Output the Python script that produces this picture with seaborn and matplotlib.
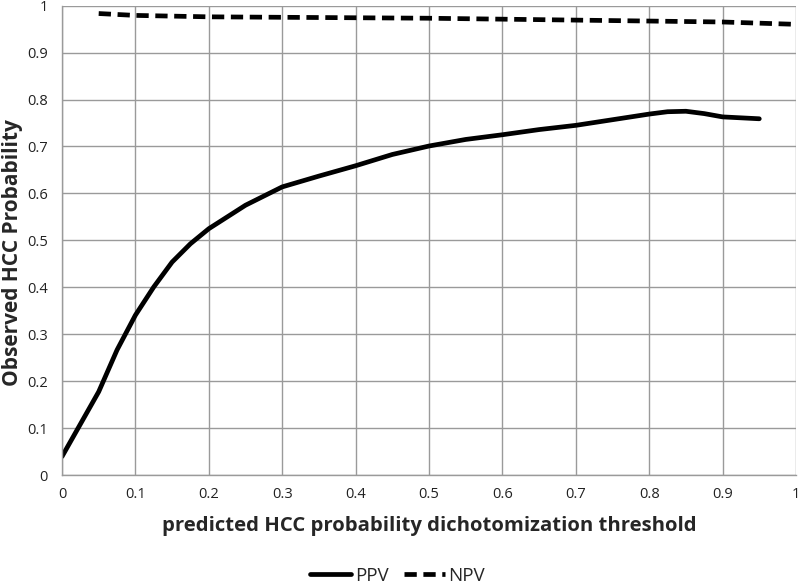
import matplotlib
matplotlib.use("Agg")
import matplotlib.pyplot as plt
import seaborn as sns
import pandas as pd

ppv_x = [0.0, 0.025, 0.05, 0.075, 0.1, 0.125, 0.15, 0.175, 0.2, 0.225, 0.25, 0.3, 0.35, 0.4,
         0.45, 0.5, 0.55, 0.6, 0.65, 0.7, 0.75, 0.8, 0.825, 0.85, 0.875, 0.9, 0.95]
ppv_y = [0.04, 0.109, 0.178, 0.267, 0.341, 0.401, 0.454, 0.493, 0.525, 0.55, 0.575, 0.614,
         0.637, 0.659, 0.683, 0.701, 0.715, 0.725, 0.736, 0.745, 0.757, 0.769, 0.774, 0.775,
         0.770, 0.763, 0.759]
npv_x = [0.05, 0.1, 0.2, 0.3, 0.4, 0.5, 0.6, 0.7, 0.8, 0.9, 1.0]
npv_y = [0.983, 0.979, 0.976, 0.975, 0.974, 0.973, 0.971, 0.969, 0.967, 0.965, 0.960]

ticks = [0, 0.1, 0.2, 0.3, 0.4, 0.5, 0.6, 0.7, 0.8, 0.9, 1]
tick_labels = ["0", "0.1", "0.2", "0.3", "0.4", "0.5", "0.6", "0.7", "0.8", "0.9", "1"]

df = pd.concat([
    pd.DataFrame({"x": ppv_x, "y": ppv_y, "series": "PPV"}),
    pd.DataFrame({"x": npv_x, "y": npv_y, "series": "NPV"}),
])

sns.set_style("white")
plt.rcParams['font.family'] = ['Open Sans', 'DejaVu Sans']

fig = plt.figure(figsize=(8, 5.84), dpi=100)
ax = fig.add_axes([0.0775, 0.186, 0.9175, 0.8045])

sns.lineplot(data=df, x="x", y="y", hue="series", style="series",
             palette={"PPV": "black", "NPV": "black"},
             dashes={"PPV": "", "NPV": (2.6, 1.4)}, linewidth=3.4, ax=ax,
             sort=False, estimator=None, legend=True)
for ln in ax.get_lines():
    ln.set_solid_joinstyle("round")
    ln.set_solid_capstyle("round")

ax.set_xlim(0, 1)
ax.set_ylim(0, 1)
ax.set_xticks(ticks)
ax.set_xticklabels(tick_labels)
ax.set_yticks(ticks)
ax.set_yticklabels(tick_labels)
ax.grid(True, color="#9a9a9a", linewidth=1)
ax.set_axisbelow(True)
for s in ["top", "right"]:
    ax.spines[s].set_visible(False)
for s in ["left", "bottom"]:
    ax.spines[s].set_color("#9a9a9a")
    ax.spines[s].set_linewidth(1)
ax.tick_params(axis="both", labelsize=10.5, labelcolor="#222222", color="#9a9a9a",
               length=3.6, width=1, direction="out")
ax.tick_params(axis="x", pad=5)
ax.tick_params(axis="y", pad=6.5)
ax.set_xlabel("predicted HCC probability dichotomization threshold",
              fontsize=14.6, fontweight="bold")
ax.xaxis.set_label_coords(0.5, -0.087)
ax.set_ylabel("Observed HCC Probability", fontsize=15, fontweight="bold")
ax.yaxis.set_label_coords(-0.053, 0.475)

handles, labels = ax.get_legend_handles_labels()
ax.get_legend().remove()
fig.legend(handles, labels, loc="center", bbox_to_anchor=(0.497, 1 - 576 / 584), ncol=2,
           frameon=False, fontsize=13.5, handlelength=2.2, handletextpad=0.2,
           columnspacing=0.8, borderpad=0)

fig.savefig("out.png", dpi=100)
